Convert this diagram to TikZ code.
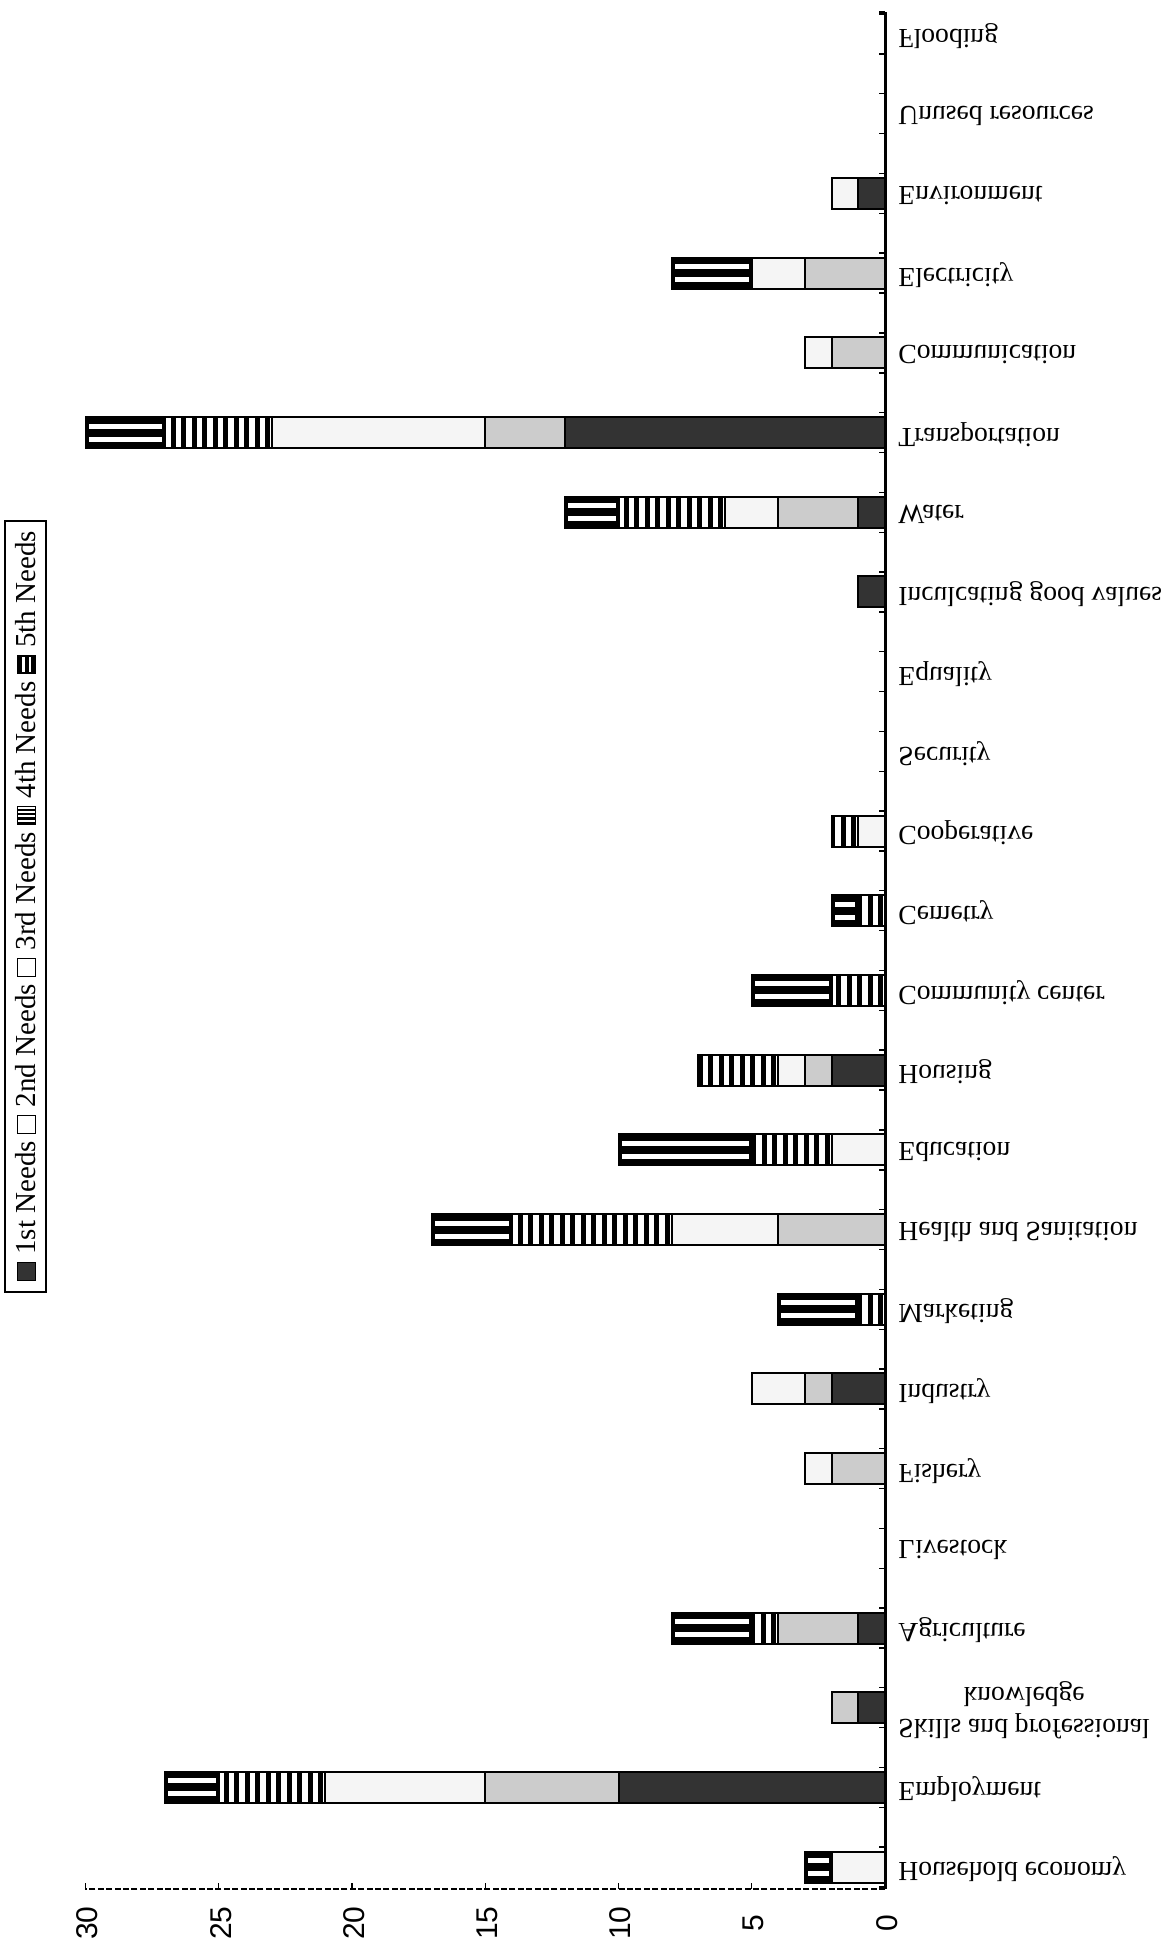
\documentclass[tikz,border=0pt]{standalone}
\usepackage{fontspec}
\setmainfont{Liberation Serif}
\setsansfont{Liberation Sans}
\usepackage{graphicx}
\colorlet{cI}{black!80}
\colorlet{cII}{black!20}
\colorlet{cIII}{black!4}
\tikzset{
  seg/.style={draw=black, line width=1pt},
  catlabel/.style={anchor=west, inner sep=0pt, font=\fontsize{13.8}{16}\selectfont},
  numlabel/.style={rotate=90, inner sep=0pt, font=\sffamily\fontsize{15}{17}\selectfont},
  legendtext/.style={rotate=90, inner sep=0pt, font=\fontsize{14.5}{17}\selectfont},
  axisline/.style={line width=1.5pt},
  valaxis/.style={line width=0.7pt, dash pattern=on 3pt off 1.2pt},
  tickmark/.style={line width=0.7pt}
}
\newcommand\needseg[3]{%
  \pgfmathsetmacro\segw{#2-#3}%
  \ifdim\segw pt>0.5pt\relax
    \ifcase#1\or
      \path[seg,fill=cI] (#3,\yt) rectangle (#2,\yb);%
    \or
      \path[seg,fill=cII] (#3,\yt) rectangle (#2,\yb);%
    \or
      \path[seg,fill=cIII] (#3,\yt) rectangle (#2,\yb);%
    \or
      \fill[white] (#3,\yt) rectangle (#2,\yb);%
      \pgfmathsetmacro\sa{#2-2}%
      \pgfmathsetmacro\sb{#2-12.5}%
      \begin{scope}
        \clip (#3,\yt) rectangle (#2,\yb);
        \foreach \sx in {\sa,\sb,...,#3} {\fill[black] (\sx-5,\yt) rectangle (\sx,\yb);}
      \end{scope}
      \draw[seg] (#3,\yt) rectangle (#2,\yb);%
    \or
      \fill[black] (#3,\yt) rectangle (#2,\yb);%
      \pgfmathsetmacro\la{#3+3}%
      \pgfmathsetmacro\ra{#2-3}%
      \fill[white] (\la,\yc-9) rectangle (\ra,\yc-4);%
      \fill[white] (\la,\yc+4) rectangle (\ra,\yc+9);%
      \draw[seg] (#3,\yt) rectangle (#2,\yb);%
    \fi
  \fi}
\newcommand\needbar[6]{%
  \pgfmathsetmacro\yc{34+#1*79.7}%
  \pgfmathsetmacro\yt{\yc-15.5}%
  \pgfmathsetmacro\yb{\yc+15.5}%
  \pgfmathsetmacro\xA{885-#2*26.65}%
  \pgfmathsetmacro\xB{\xA-#3*26.65}%
  \pgfmathsetmacro\xC{\xB-#4*26.65}%
  \pgfmathsetmacro\xD{\xC-#5*26.65}%
  \pgfmathsetmacro\xE{\xD-#6*26.65}%
  \needseg{1}{885}{\xA}%
  \needseg{2}{\xA}{\xB}%
  \needseg{3}{\xB}{\xC}%
  \needseg{4}{\xC}{\xD}%
  \needseg{5}{\xD}{\xE}%
}
\newcommand\lsq[1]{\tikz[baseline=0pt]\draw[line width=0.6pt, fill=#1] (0pt,0pt) rectangle (9pt,9pt);}
\newcommand\lsqIV{\tikz[baseline=0pt]{\fill[white] (0pt,0pt) rectangle (9pt,9pt);
  \foreach \k in {0,2.2,4.4,6.6} {\fill[black] (\k pt,0pt) rectangle (\k pt+1.2pt,9pt);}
  \draw[line width=0.6pt] (0pt,0pt) rectangle (9pt,9pt);}}
\newcommand\lsqV{\tikz[baseline=0pt]{\fill[black] (0pt,0pt) rectangle (9pt,9pt);
  \fill[white] (0.8pt,2.2pt) rectangle (8.2pt,3.4pt);
  \fill[white] (0.8pt,5.6pt) rectangle (8.2pt,6.8pt);
  \draw[line width=0.6pt] (0pt,0pt) rectangle (9pt,9pt);}}
\begin{document}
\begin{tikzpicture}[x=0.5pt,y=-0.5pt]
\useasboundingbox (0,0) rectangle (1170,1940);
% bars: index, 1st..5th
\needbar{2}{1}{0}{1}{0}{0}
\needbar{3}{0}{3}{2}{0}{3}
\needbar{4}{0}{2}{1}{0}{0}
\needbar{5}{12}{3}{8}{4}{3}
\needbar{6}{1}{3}{2}{4}{2}
\needbar{7}{1}{0}{0}{0}{0}
\needbar{10}{0}{0}{1}{1}{0}
\needbar{11}{0}{0}{0}{1}{1}
\needbar{12}{0}{0}{0}{2}{3}
\needbar{13}{2}{1}{1}{3}{0}
\needbar{14}{0}{0}{2}{3}{5}
\needbar{15}{0}{4}{4}{6}{3}
\needbar{16}{0}{0}{0}{1}{3}
\needbar{17}{2}{1}{2}{0}{0}
\needbar{18}{0}{2}{1}{0}{0}
\needbar{20}{1}{3}{0}{1}{3}
\needbar{21}{1}{1}{0}{0}{0}
\needbar{22}{10}{5}{6}{4}{2}
\needbar{23}{0}{0}{2}{0}{1}
% category axis
\coordinate (ctop) at (885,12);
\coordinate (corner) at (885,1889);
\coordinate (vend) at (85,1889);
\draw[axisline] (ctop) -- (corner);
\draw[tickmark] (ctop) -- ++(-6,0);
\foreach \i in {0,...,23} {
  \draw[tickmark] (885,{34+\i*79.7-20}) -- ++(-6,0);
  \draw[tickmark] (885,{34+\i*79.7+20}) -- ++(-6,0);
}
% value axis
\draw[valaxis] (corner) -- (vend);
\foreach \k in {0,...,6} {
  \pgfmathtruncatemacro\v{\k*5}
  \draw[tickmark] ({885-\k*5*26.65},1889) -- ++(0,-6);
  \node[numlabel] (num\k) at ({887-\k*5*26.65},1923) {\v};
}
% category labels (printed mirrored top-to-bottom)
\foreach \i/\t in {0/Flooding,1/Unused resources,2/Environment,3/Electricity,4/Communication,5/Transportation,6/Water,7/Inculcating good values,8/Equality,9/Security,10/Cooperative,11/Cemetry,12/Community center,13/Housing,14/Education,15/Health and Sanitation,16/Marketing,17/Industry,18/Fishery,19/Livestock,20/Agriculture,22/Employment,23/Household economy} {
  \node[catlabel] (lab\i) at (898,{36+\i*79.7}) {\scalebox{1}[-1]{\t}};
}
\node[catlabel] (lab21) at (898,{36+21*79.7}) {\scalebox{1}[-1]{\begin{tabular}{@{}c@{}}Skills and professional\\knowledge\end{tabular}}};
% legend
\draw[line width=1pt] (5,521) rectangle (46,1292);
\node[legendtext] (legend) at (26,906) {\lsq{cI} 1st Needs \lsq{white} 2nd Needs \lsq{white} 3rd Needs \lsqIV\ 4th Needs \lsqV\ 5th Needs};
\end{tikzpicture}
\end{document}
